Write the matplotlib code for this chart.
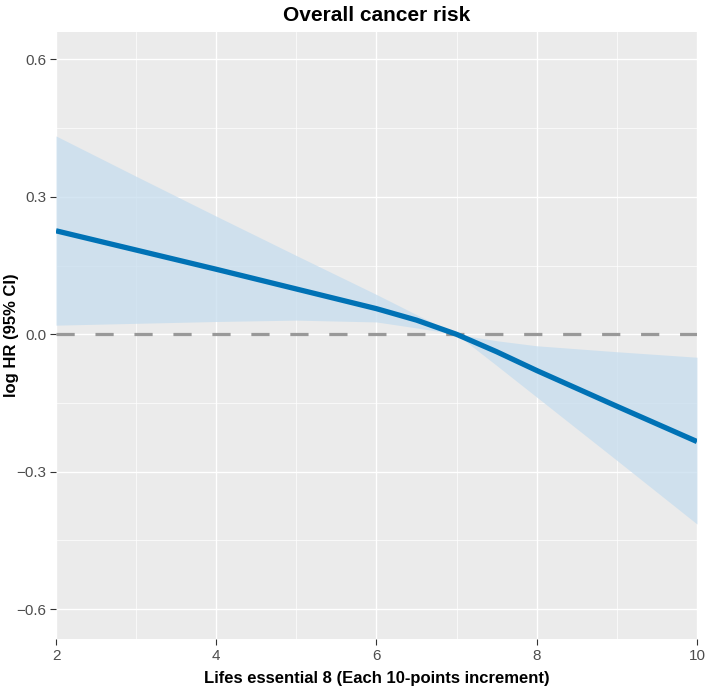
import numpy as np
import matplotlib.pyplot as plt

# values
le8 = [2, 3, 4, 5, 6, 6.5, 7, 7.5, 8, 9, 10]
log_hr = [0.226, 0.184, 0.142, 0.099, 0.056, 0.031, 0.0, -0.038, -0.079, -0.157, -0.234]
ci_low = [0.020, 0.024, 0.028, 0.031, 0.027, 0.014, 0.0, -0.068, -0.137, -0.275, -0.414]
ci_high = [0.433, 0.345, 0.258, 0.172, 0.087, 0.043, 0.0, -0.014, -0.025, -0.038, -0.050]

xticks = [2, 4, 6, 8, 10]
yticks = [-0.6, -0.3, 0.0, 0.3, 0.6]

plt.rcParams['font.family'] = ['Liberation Sans', 'DejaVu Sans']

fig = plt.figure(figsize=(7.09, 6.89), dpi=100)
ax = fig.add_axes([0.079, 0.0726, 0.904, 0.881])
ax.set_facecolor('#EBEBEB')
for s in ax.spines.values():
    s.set_visible(False)

# grid like ggplot
for v in [3, 5, 7, 9]:
    ax.axvline(v, color='white', lw=0.5, zorder=0)
for v in [-0.45, -0.15, 0.15, 0.45]:
    ax.axhline(v, color='white', lw=0.5, zorder=0)
for v in xticks:
    ax.axvline(v, color='white', lw=1.0, zorder=0)
for v in yticks:
    ax.axhline(v, color='white', lw=1.0, zorder=0)

ax.fill_between(le8, ci_low, ci_high, color='#C6DDEE', alpha=0.75, lw=0, zorder=1)
ax.axhline(0, color='#999999', lw=2.3, ls=(0, (5.7, 6.5)), zorder=2)
ax.plot(le8, log_hr, color='#0072B5', lw=3.8, solid_capstyle='butt', zorder=3)

ax.set_xlim(2, 10)
ax.set_ylim(-0.665, 0.66)
ax.set_xticks(xticks)
ax.set_yticks(yticks)
ax.set_xticklabels([str(v) for v in xticks])
ax.set_yticklabels(['\u22120.6', '\u22120.3', '0.0', '0.3', '0.6'])
ax.tick_params(length=4, width=0.8, color='#333333', labelcolor='#4D4D4D', labelsize=11, pad=3)

ax.set_xlabel('Lifes essential 8 (Each 10-points increment)', fontsize=12, fontweight='bold', labelpad=6)
ax.set_ylabel('log HR (95% CI)', fontsize=12, fontweight='bold')
ax.yaxis.set_label_coords(-0.058, 0.5)
ax.set_title('Overall cancer risk', fontsize=15, fontweight='bold', pad=8)

fig.savefig('out.png', dpi=100)
